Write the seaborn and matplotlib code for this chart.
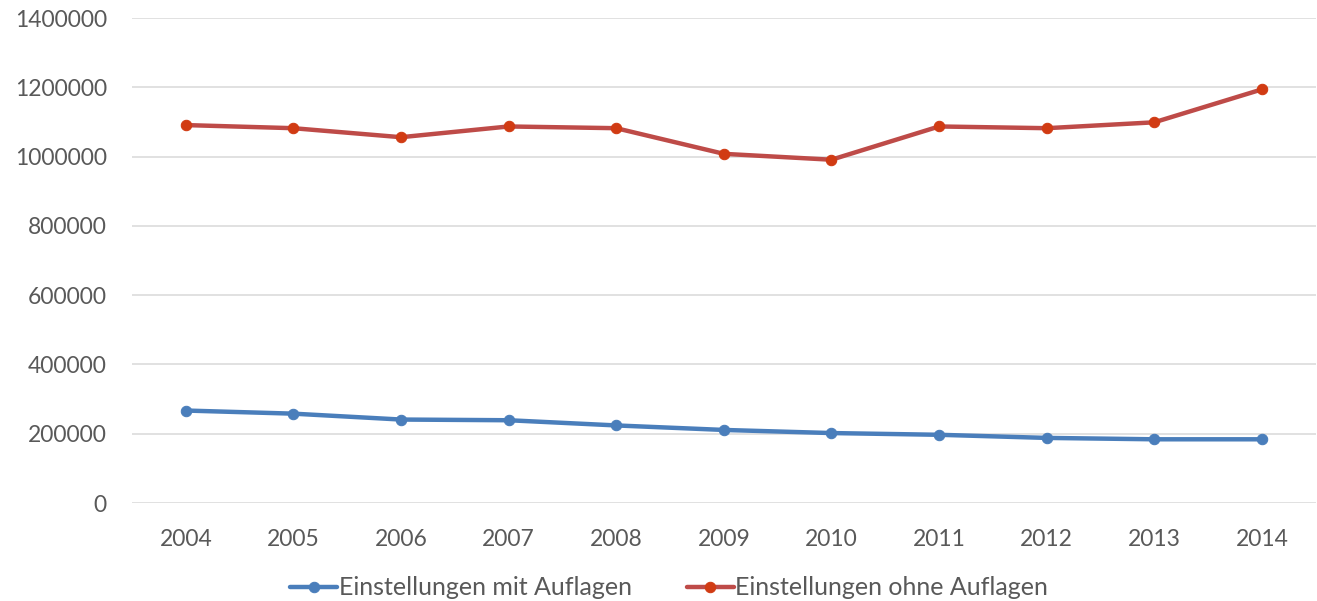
import matplotlib
matplotlib.use("Agg")
import matplotlib.pyplot as plt
import seaborn as sns
import pandas as pd

years = [2004, 2005, 2006, 2007, 2008, 2009, 2010, 2011, 2012, 2013, 2014]
mit_auflagen = [267000, 258000, 241000, 239000, 224000, 211000, 202000, 197000, 188000, 184000, 184000]
ohne_auflagen = [1091000, 1082000, 1056000, 1087000, 1082000, 1008000, 991000, 1087000, 1082000, 1099000, 1194000]
series_names = ["Einstellungen mit Auflagen", "Einstellungen ohne Auflagen"]
y_ticks = [0, 200000, 400000, 600000, 800000, 1000000, 1200000, 1400000]

sns.set_theme(style="white")
plt.rcParams["font.family"] = ["Lato", "DejaVu Sans"]

text_color = "#595959"
grid_color = "#D9D9D9"
line_colors = ["#4A7EBB", "#BE4B48"]
marker_colors = ["#4A7EBB", "#D13B13"]

fig = plt.figure(figsize=(13.17, 6.01), dpi=100)
ax = fig.add_axes([0.1002, 0.163, 0.8988, 0.807])

df = pd.DataFrame({"Jahr": years, series_names[0]: mit_auflagen, series_names[1]: ohne_auflagen})
long_df = df.melt(id_vars="Jahr", var_name="Serie", value_name="Anzahl")

for name, lc, mc in zip(series_names, line_colors, marker_colors):
    sub = long_df[long_df["Serie"] == name]
    sns.lineplot(data=sub, x="Jahr", y="Anzahl", ax=ax, color=lc, linewidth=3.2,
                 marker="o", markersize=7.5, markerfacecolor=mc, markeredgecolor=mc,
                 label=name, zorder=3)

ax.set_xlim(2003.5, 2014.5)
ax.set_ylim(0, 1400000)
ax.set_yticks(y_ticks)
ax.set_yticklabels([str(v) for v in y_ticks])
ax.set_xticks(years)
ax.set_xticklabels([str(y) for y in years])
ax.yaxis.grid(True, color=grid_color, linewidth=1.1)
ax.set_axisbelow(True)
for s in ax.spines.values():
    s.set_visible(False)
ax.set_xlabel("")
ax.set_ylabel("")
ax.tick_params(axis="y", length=0, pad=18, labelsize=16.5, labelcolor=text_color)
ax.tick_params(axis="x", length=0, pad=19, labelsize=16.5, labelcolor=text_color)

handles, labels = ax.get_legend_handles_labels()
ax.get_legend().remove()
fig.legend(handles, labels, loc="center", bbox_to_anchor=(0.508, 0.022), ncol=2,
           frameon=False, fontsize=18, labelcolor=text_color,
           handlelength=1.9, handletextpad=0.05, columnspacing=2.2)

fig.savefig("out.png", dpi=100, facecolor="white")
